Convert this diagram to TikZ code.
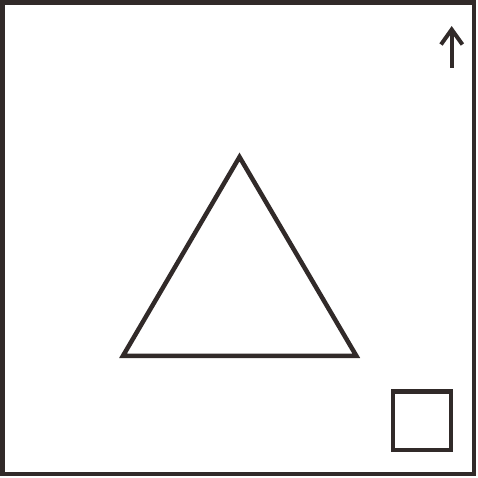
\documentclass[tikz,border=0pt]{standalone}
\definecolor{ink}{HTML}{312A29}
\begin{document}
\begin{tikzpicture}[x=1pt,y=-1pt,
  stroke/.style={draw=ink,line width=4.5pt,line join=miter}]
\useasboundingbox (0,0) rectangle (478,478);
\fill[white] (0,0) rectangle (478,478);
% frame
\draw[stroke] (2.3,2.3) rectangle (473.8,473.8);
% triangle
\coordinate (A) at (239.5,157);
\coordinate (B) at (123,355.8);
\coordinate (C) at (356.3,355.8);
\draw[stroke] (A) -- (B) -- (C) -- cycle;
% square
\draw[stroke] (393.1,391.6) rectangle (450.9,450);
% north arrow
\coordinate (tail) at (451.7,68);
\coordinate (tip) at (451.7,29.5);
\draw[draw=ink,line width=3.8pt] (tail) -- ([yshift=-1]tip);
\draw[draw=ink,line width=4pt,line join=miter] (441,44.5) -- (tip) -- (462.4,44.5);
\end{tikzpicture}
\end{document}
